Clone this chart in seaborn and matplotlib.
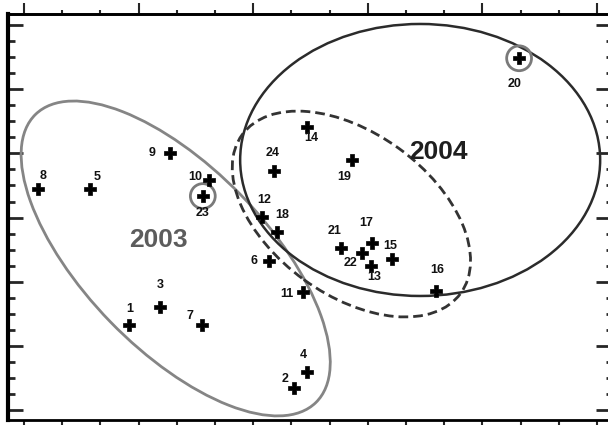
#!/usr/bin/env python3
"""Two-year cluster scatter with group ellipses."""

import matplotlib
matplotlib.use("Agg")
import matplotlib.pyplot as plt
import matplotlib.transforms as mtransforms
from matplotlib.patches import Ellipse
from matplotlib.ticker import MultipleLocator
import pandas as pd
import seaborn as sns

# point ids and positions (axis units, no labels on the axes)
ids = [str(i) for i in range(1, 25)]
x_vals = [2.76, 7.07, 3.56, 7.42, 1.73, 6.40, 4.67, 0.36, 3.82, 4.85, 7.30, 6.22,
          9.08, 7.42, 9.63, 10.78, 9.12, 6.62, 8.58, 12.96, 8.29, 8.84, 4.68, 6.55]
y_vals = [5.28, 1.37, 6.42, 2.37, 13.76, 9.29, 5.32, 13.76, 16.04, 14.32, 7.38, 12.05,
          8.98, 17.66, 9.40, 7.42, 10.39, 11.08, 15.59, 21.93, 10.08, 9.81, 13.34, 14.90]
circled = ["20", "23"]

# group labels and ellipse centres
group_names = ["2003", "2004"]
group_x = [3.52, 10.85]
group_y = [10.58, 16.10]
ellipse_cx = [3.97, 10.37, 8.57]
ellipse_cy = [9.45, 15.59, 12.22]

# label offsets in pixels (dx, dy), y up
label_offsets = {
    "1": (0, 16), "2": (-9, 9), "3": (0, 22), "4": (-4, 17), "5": (7, 12),
    "6": (-15, 0), "7": (-12, 9), "8": (5, 13), "9": (-18, 0), "10": (-14, 3),
    "11": (-16, -2), "12": (3, 17), "13": (3, -11), "14": (4, -11), "15": (-2, 13),
    "16": (1, 21), "17": (-6, 20), "18": (5, 17), "19": (-8, -17), "20": (-5, -26),
    "21": (-6, 17), "22": (-11, -10), "23": (0, -17), "24": (-2, 18),
}

df = pd.DataFrame({"id": ids, "x": x_vals, "y": y_vals})

sns.set_style("white")
plt.rcParams["font.family"] = ["Liberation Sans", "DejaVu Sans"]

fig = plt.figure(figsize=(6.08, 4.25), dpi=100)
ax = fig.add_axes([8 / 608, 5 / 425, 602 / 608, 406 / 425])
ax.set_xlim(-0.42, 15.34)
ax.set_ylim(-0.62, 24.69)

# ellipses: size in inches, placed at data centres
ell_specs = [
    dict(w=4.02, h=1.82, angle=-45.8, color="#858585", lw=2.0, ls="-"),
    dict(w=3.60, h=2.72, angle=0.0, color="#2b2b2b", lw=1.8, ls="-"),
    dict(w=2.70, h=1.62, angle=-36.0, color="#333333", lw=2.0, ls=(0, (3.5, 1.8))),
]
for cx, cy, spec in zip(ellipse_cx, ellipse_cy, ell_specs):
    trans = fig.dpi_scale_trans + mtransforms.ScaledTranslation(cx, cy, ax.transData)
    e = Ellipse((0, 0), spec["w"], spec["h"], angle=spec["angle"], transform=trans,
                fill=False, edgecolor=spec["color"], linewidth=spec["lw"],
                linestyle=spec["ls"], zorder=2)
    ax.add_patch(e)

sns.scatterplot(data=df, x="x", y="y", marker="P", s=70, color="black",
                edgecolor="black", linewidth=0.5, ax=ax, zorder=4, legend=False)

hl = df[df["id"].isin(circled)]
ax.scatter(hl["x"], hl["y"], s=320, facecolors="none", edgecolors="#7a7a7a",
           linewidths=2.0, zorder=3)

for _, row in df.iterrows():
    dx, dy = label_offsets[row["id"]]
    ax.annotate(row["id"], (row["x"], row["y"]), xytext=(dx, dy),
                textcoords="offset pixels", ha="center", va="center",
                fontsize=9, fontweight="bold", color="#111111", zorder=5)

for name, gx, gy, col in zip(group_names, group_x, group_y, ["#5c5c5c", "#1e1e1e"]):
    ax.text(gx, gy, name, ha="center", va="center", fontsize=19,
            fontweight="bold", color=col, zorder=5)

# ticks: bottom/left on the main axes, top/right on secondary axes
ax.xaxis.set_major_locator(MultipleLocator(3))
ax.xaxis.set_minor_locator(MultipleLocator(1))
ax.yaxis.set_major_locator(MultipleLocator(4))
ax.yaxis.set_minor_locator(MultipleLocator(1))
ax.tick_params(axis="x", which="both", direction="out", length=6, width=1.5,
               labelbottom=False, bottom=True, top=False)
ax.tick_params(axis="y", which="major", direction="in", length=11, width=2,
               labelleft=False, left=True, right=False)
ax.tick_params(axis="y", which="minor", direction="in", length=5, width=2,
               left=True, right=False)
ax.set_xlabel("")
ax.set_ylabel("")

top = ax.secondary_xaxis("top")
top.xaxis.set_major_locator(MultipleLocator(3))
top.xaxis.set_minor_locator(MultipleLocator(1))
top.tick_params(which="major", direction="out", length=8, width=1.5, labeltop=False)
top.tick_params(which="minor", direction="out", length=3, width=1.5)

right = ax.secondary_yaxis("right")
right.yaxis.set_major_locator(MultipleLocator(4))
right.yaxis.set_minor_locator(MultipleLocator(1))
right.tick_params(which="major", direction="in", length=10, width=2, labelright=False)
right.tick_params(which="minor", direction="in", length=3, width=2)

for side, w in [("left", 3), ("bottom", 2), ("top", 2), ("right", 2)]:
    ax.spines[side].set_linewidth(w)
    ax.spines[side].set_color("black")
top.spines["top"].set_linewidth(2)
right.spines["right"].set_linewidth(2)

fig.savefig("out.png", dpi=100)
